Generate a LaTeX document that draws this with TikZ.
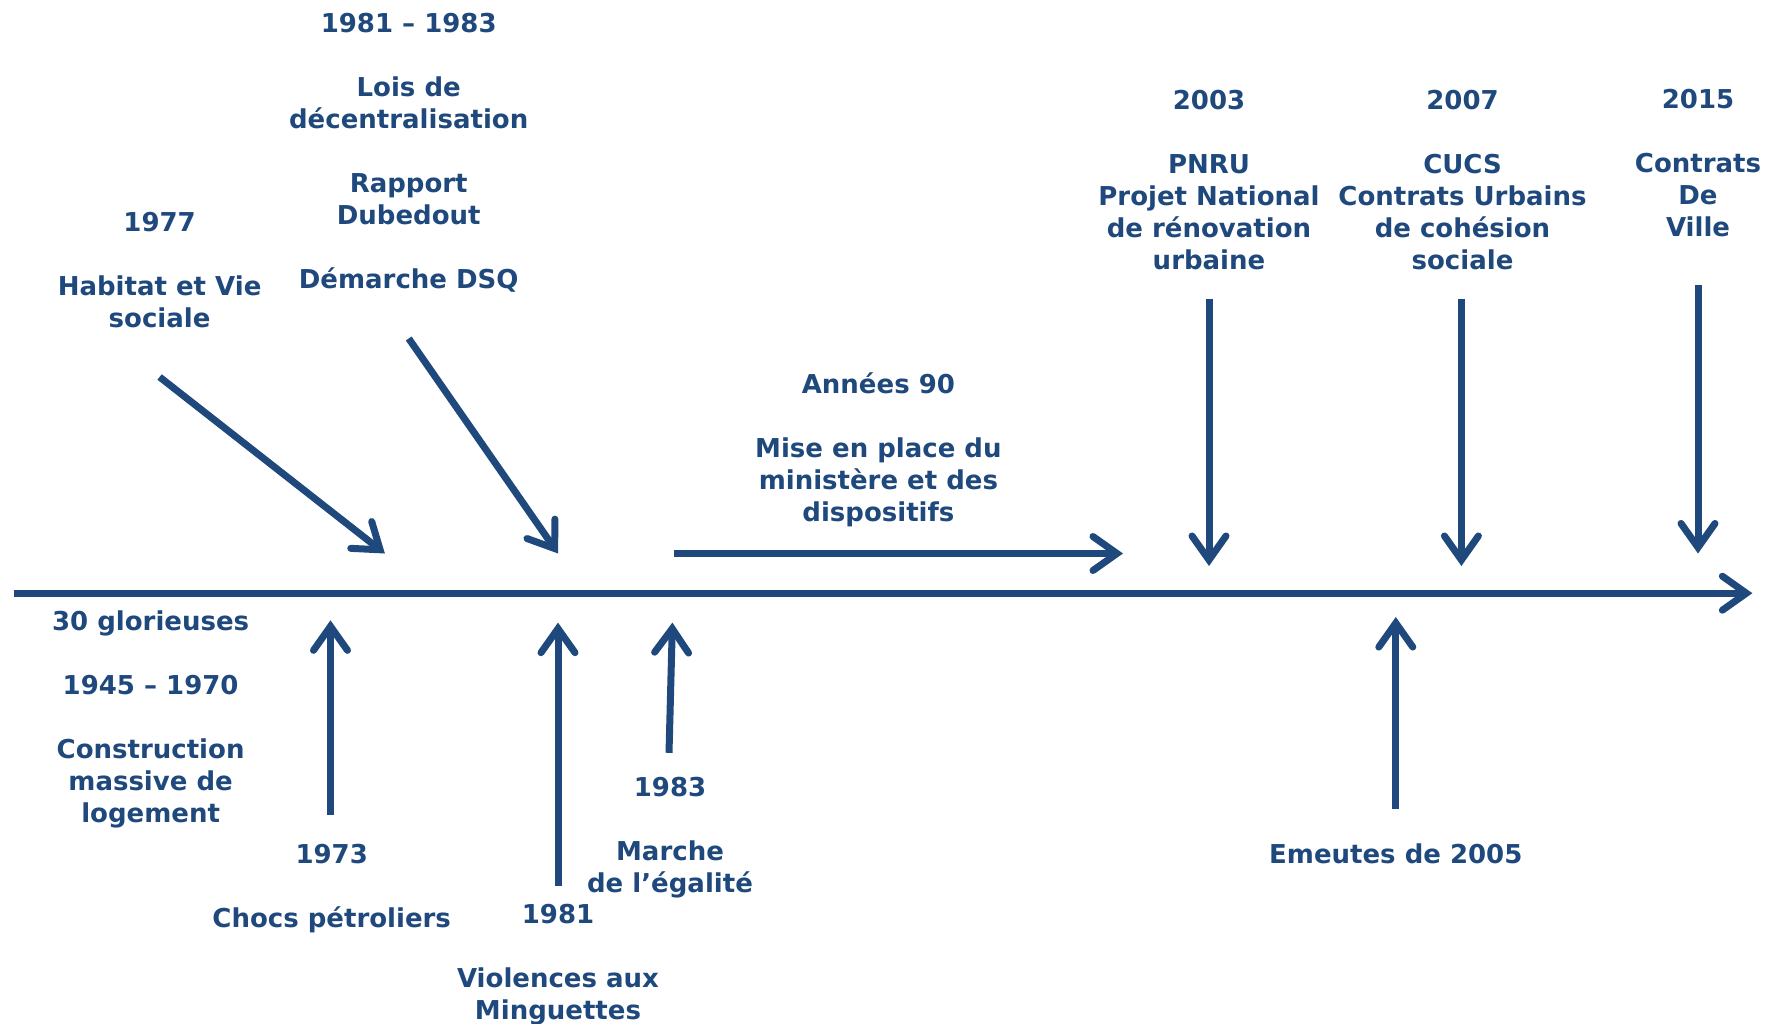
\documentclass[tikz,border=0pt]{standalone}
\usepackage{fontspec}
\setmainfont{DejaVu Sans}
\usetikzlibrary{arrows.meta}
\definecolor{tblue}{HTML}{1F497D}
\begin{document}
\begin{tikzpicture}[x=1pt,y=-1pt,
  lbl/.style={text=tblue, font=\fontsize{26}{32}\selectfont\bfseries, align=center, inner sep=0pt, anchor=north},
  arr/.style={draw=tblue, line width=7pt, -{Straight Barb[length=24pt, width=34pt, line cap=round, line join=miter]}},
]
\useasboundingbox (0,0) rectangle (1775,1023);

% labels
\node[lbl] (A) at (408.7,12.6) {1981 – 1983\\[32pt]Lois de\\décentralisation\\[32pt]Rapport\\Dubedout\\[32pt]Démarche DSQ};
\node[lbl] (B) at (159.6,212) {1977\\[32pt]Habitat et Vie\\sociale};
\node[lbl] (C) at (878.4,372.6) {Années 90\\[32pt]Mise en place du\\ministère et des\\dispositifs};
\node[lbl] (D) at (1209,89.6) {2003\\[32pt]PNRU\\Projet National\\de rénovation\\urbaine};
\node[lbl] (E) at (1462.5,89.6) {2007\\[32pt]CUCS\\Contrats Urbains\\de cohésion\\sociale};
\node[lbl] (F) at (1698,88.5) {2015\\[32pt]Contrats\\De\\Ville};
\node[lbl] (G) at (150.6,610.3) {30 glorieuses\\[32pt]1945 – 1970\\[32pt]Construction\\massive de\\logement};
\node[lbl] (H) at (331.7,843.5) {1973\\[32pt]Chocs pétroliers};
\node[lbl] (I) at (558,903.5) {1981\\[32pt]Violences aux\\Minguettes};
\node[lbl] (J) at (670,776.7) {1983\\[32pt]Marche\\de l’égalité};
\node[lbl] (K) at (1395.8,843.5) {Emeutes de 2005};

% arrow end points
\coordinate (ax1) at (13.6,593.2);
\coordinate (ax2) at (1752.4,593.2);
\coordinate (a1) at (408.7,338.5);
\coordinate (a2) at (558.1,553.5);
\coordinate (b1) at (159.6,377);
\coordinate (b2) at (384.9,553.5);
\coordinate (c1) at (673.5,553.5);
\coordinate (c2) at (1123,553.5);
\coordinate (d1) at (1209,298.8);
\coordinate (d2) at (1209,566);
\coordinate (e1) at (1461.4,298.8);
\coordinate (e2) at (1461.4,566);
\coordinate (f1) at (1698,285.3);
\coordinate (f2) at (1698,553.5);
\coordinate (g1) at (330.5,815);
\coordinate (g2) at (330.5,620.3);
\coordinate (h1) at (558,886.4);
\coordinate (h2) at (558,622.6);
\coordinate (i1) at (669,752.8);
\coordinate (i2) at (672.4,622.6);
\coordinate (k1) at (1395.8,809.4);
\coordinate (k2) at (1395.8,617);

% connectors
\draw[arr] (ax1) -- (ax2);
\draw[arr] (a1) -- (a2);
\draw[arr] (b1) -- (b2);
\draw[arr] (c1) -- (c2);
\draw[arr] (d1) -- (d2);
\draw[arr] (e1) -- (e2);
\draw[arr] (f1) -- (f2);
\draw[arr] (g1) -- (g2);
\draw[arr] (h1) -- (h2);
\draw[arr] (i1) -- (i2);
\draw[arr] (k1) -- (k2);
\end{tikzpicture}
\end{document}
